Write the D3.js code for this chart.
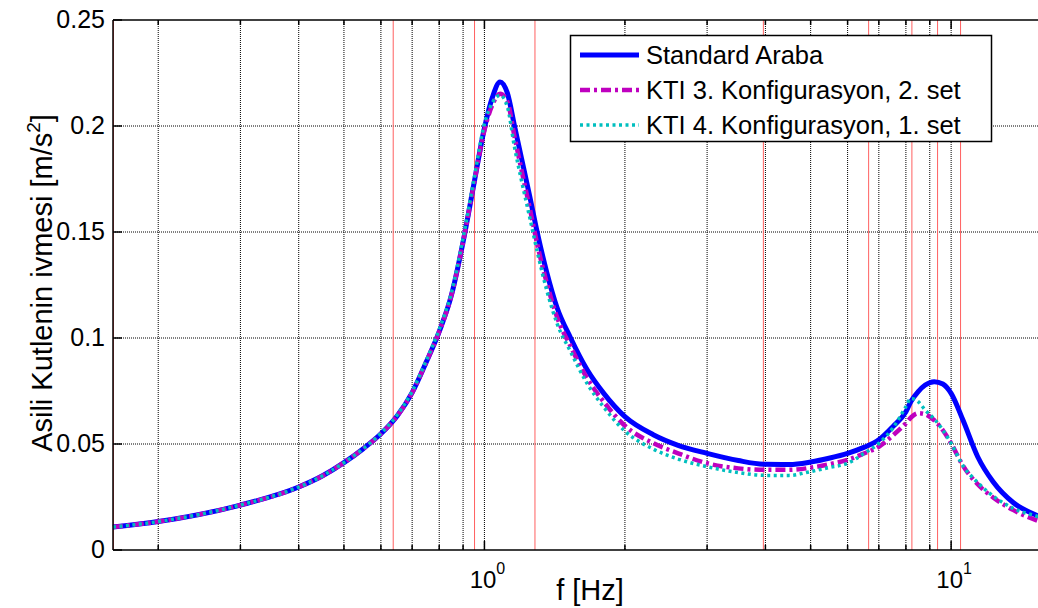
<!DOCTYPE html>
<html>
<head>
<meta charset="utf-8">
<script src="https://cdn.jsdelivr.net/npm/d3@7"></script>
<style>
body { margin: 0; background: #fff; }
text { font-family: Arial, "Liberation Sans", Helvetica, sans-serif; fill: #000; }
</style>
</head>
<body>
<svg id="chart" width="1038" height="608"></svg>
<script>
// frequency samples [Hz]
var freq = [0.16, 0.2, 0.3, 0.4, 0.45, 0.5, 0.55, 0.6, 0.65, 0.7, 0.75, 0.8, 0.85, 0.9, 0.95, 1.0, 1.04, 1.08,
  1.12, 1.16, 1.2, 1.25, 1.3, 1.36, 1.43, 1.53, 1.66, 1.8, 2.0, 2.3, 2.6, 3.0, 3.5, 4.0, 4.5,
  5.0, 5.5, 6.0, 6.5, 7.0, 7.5, 8.0, 8.2, 8.5, 8.8, 9.2, 9.6, 10.0, 10.6, 11.4, 12.3, 13.6, 15.5, 17.8];

var standard = [0.0108, 0.0134, 0.0212, 0.0297, 0.035, 0.0412, 0.0478, 0.0548, 0.0632, 0.0742, 0.0885, 0.103, 0.1203, 0.1453, 0.173, 0.199, 0.2135, 0.2208,
  0.2155, 0.200, 0.185, 0.167, 0.149, 0.131, 0.1145, 0.100, 0.085, 0.074, 0.0629, 0.0544, 0.0494, 0.0456, 0.0422, 0.0404, 0.0403,
  0.0415, 0.0434, 0.0456, 0.0484, 0.052, 0.0582, 0.0652, 0.070, 0.0747, 0.0778, 0.0794, 0.0783, 0.0739, 0.0613, 0.044, 0.0322, 0.0223, 0.0157, 0.011];

var kti3 = [0.0108, 0.0134, 0.0212, 0.0297, 0.035, 0.0412, 0.0478, 0.0548, 0.0632, 0.0742, 0.0885, 0.103, 0.1203, 0.1453, 0.173, 0.198, 0.210, 0.2152,
  0.2115, 0.195, 0.1795, 0.1615, 0.1435, 0.126, 0.110, 0.096, 0.081, 0.070, 0.0586, 0.0504, 0.0456, 0.0409, 0.0385, 0.0378, 0.0378,
  0.0388, 0.0405, 0.0425, 0.0455, 0.0487, 0.054, 0.0598, 0.0625, 0.0645, 0.064, 0.0612, 0.0565, 0.0503, 0.0398, 0.031, 0.0248, 0.0188, 0.0134, 0.0098];

var kti4 = [0.0108, 0.0134, 0.0212, 0.0297, 0.035, 0.0412, 0.0478, 0.055, 0.0636, 0.0748, 0.0892, 0.104, 0.1215, 0.147, 0.175, 0.201, 0.211, 0.2145,
  0.209, 0.190, 0.1745, 0.157, 0.140, 0.1225, 0.107, 0.0935, 0.0785, 0.0675, 0.0561, 0.0476, 0.0429, 0.0393, 0.0365, 0.0352, 0.0352,
  0.037, 0.039, 0.0409, 0.0455, 0.0503, 0.0575, 0.0676, 0.0715, 0.070, 0.066, 0.0618, 0.0566, 0.0503, 0.0398, 0.0318, 0.0255, 0.0196, 0.0155, 0.011];

var seriesNames = ["Standard Araba", "KTI 3. Konfigurasyon, 2. set", "KTI 4. Konfigurasyon, 1. set"];
var markerFreqs = [0.16, 0.636, 0.95, 1.28, 3.95, 6.64, 8.22, 9.33, 10.45];
var yTicks = [0, 0.05, 0.1, 0.15, 0.2, 0.25];
var xMajor = [1, 10];

var svg = d3.select("#chart");
// plot box (right edge runs past the window, as in the reference)
var pLeft = 113, pRight = 1068, pTop = 20, pBottom = 550;

var x = d3.scaleLog().domain([0.16, 17.8]).range([pLeft, pRight]);
var y = d3.scaleLinear().domain([0, 0.25]).range([pBottom, pTop]);

// log grid values 0.2 .. 17
var xGrid = [];
[0.1, 1, 10].forEach(function(dec) {
  for (var k = 1; k <= 9; k++) {
    var v = +(k * dec).toPrecision(3);
    if (v > 0.16 && v < 17.8) xGrid.push(v);
  }
});

var grid = svg.append("g");
grid.selectAll(".vgrid").data(xGrid).enter().append("line")
  .attr("x1", function(d) { return x(d); }).attr("x2", function(d) { return x(d); })
  .attr("y1", pTop).attr("y2", pBottom)
  .style("stroke", "#000").style("stroke-width", 1).style("stroke-dasharray", "1,1");
grid.selectAll(".hgrid").data(yTicks.slice(1, -1)).enter().append("line")
  .attr("x1", pLeft).attr("x2", pRight)
  .attr("y1", function(d) { return y(d); }).attr("y2", function(d) { return y(d); })
  .style("stroke", "#000").style("stroke-width", 1).style("stroke-dasharray", "1,1");

// red marker lines
svg.append("g").selectAll("line").data(markerFreqs).enter().append("line")
  .attr("x1", function(d) { return x(d) + 0.5; }).attr("x2", function(d) { return x(d) + 0.5; })
  .attr("y1", pTop).attr("y2", pBottom)
  .style("stroke", "#ff6060").style("stroke-width", 1);

// curves
var line = d3.line()
  .x(function(d) { return x(d[0]); })
  .y(function(d) { return y(d[1]); })
  .curve(d3.curveMonotoneX);

var styles = [
  { color: "#0000ff", width: 5, dash: null },
  { color: "#bf00bf", width: 4.5, dash: "10,4,3,4" },
  { color: "#00bfbf", width: 3.5, dash: "3,3.5" }
];
var allSeries = [standard, kti3, kti4];

svg.append("g").selectAll("path").data(allSeries).enter().append("path")
  .attr("d", function(vals) { return line(freq.map(function(f, i) { return [f, vals[i]]; })); })
  .style("fill", "none")
  .style("stroke", function(d, i) { return styles[i].color; })
  .style("stroke-width", function(d, i) { return styles[i].width; })
  .style("stroke-dasharray", function(d, i) { return styles[i].dash; });

// axes box and ticks
var axes = svg.append("g").style("stroke", "#000").style("stroke-width", 1.5);
axes.append("line").attr("x1", pLeft).attr("x2", pRight).attr("y1", pTop).attr("y2", pTop);
axes.append("line").attr("x1", pLeft).attr("x2", pRight).attr("y1", pBottom).attr("y2", pBottom);
axes.append("line").attr("x1", pLeft).attr("x2", pLeft).attr("y1", pTop).attr("y2", pBottom);
axes.selectAll(".bt").data(xGrid).enter().append("line")
  .attr("x1", function(d) { return x(d); }).attr("x2", function(d) { return x(d); })
  .attr("y1", pBottom).attr("y2", function(d) { return xMajor.indexOf(d) >= 0 ? pBottom - 9 : pBottom - 5; });
axes.selectAll(".tt").data(xGrid).enter().append("line")
  .attr("x1", function(d) { return x(d); }).attr("x2", function(d) { return x(d); })
  .attr("y1", pTop).attr("y2", function(d) { return xMajor.indexOf(d) >= 0 ? pTop + 9 : pTop + 5; });
axes.selectAll(".lt").data(yTicks).enter().append("line")
  .attr("x1", pLeft).attr("x2", pLeft + 9)
  .attr("y1", function(d) { return y(d); }).attr("y2", function(d) { return y(d); });

// y tick labels
svg.append("g").selectAll("text").data(yTicks).enter().append("text")
  .attr("x", pLeft - 8).attr("y", function(d) { return y(d) + 8; })
  .attr("text-anchor", "end").style("font-size", "25px")
  .text(function(d) { return d; });

// x tick labels 10^n
var xl = svg.append("g").selectAll("text").data(xMajor).enter().append("text")
  .attr("x", function(d) { return x(d) + 3; }).attr("y", 588)
  .attr("text-anchor", "middle").style("font-size", "24px");
xl.append("tspan").text("10");
xl.append("tspan").attr("dy", -14).style("font-size", "16px")
  .text(function(d) { return Math.round(Math.log10(d)); });

// axis labels
svg.append("text").attr("x", 590).attr("y", 600).attr("text-anchor", "middle")
  .style("font-size", "29px").text("f [Hz]");
var yl = svg.append("text").attr("transform", "translate(52,283) rotate(-90)")
  .attr("text-anchor", "middle").style("font-size", "29px");
yl.append("tspan").text("Asili Kutlenin ivmesi [m/s");
yl.append("tspan").attr("dy", -12).style("font-size", "19px").text("2");
yl.append("tspan").attr("dy", 12).text("]");

// legend
var legend = svg.append("g");
legend.append("rect").attr("x", 570.5).attr("y", 35.5).attr("width", 421).attr("height", 106)
  .style("fill", "#fff").style("stroke", "#000").style("stroke-width", 1.5);
var rows = legend.selectAll(".row").data(seriesNames).enter().append("g")
  .attr("transform", function(d, i) { return "translate(0," + (55 + i * 35) + ")"; });
rows.append("line").attr("x1", 580).attr("x2", 639).attr("y1", 0).attr("y2", 0)
  .style("stroke", function(d, i) { return styles[i].color; })
  .style("stroke-width", function(d, i) { return styles[i].width; })
  .style("stroke-dasharray", function(d, i) { return styles[i].dash; });
rows.append("text").attr("x", 646).attr("y", 9).style("font-size", "25.5px")
  .text(function(d) { return d; });
</script>
</body>
</html>
